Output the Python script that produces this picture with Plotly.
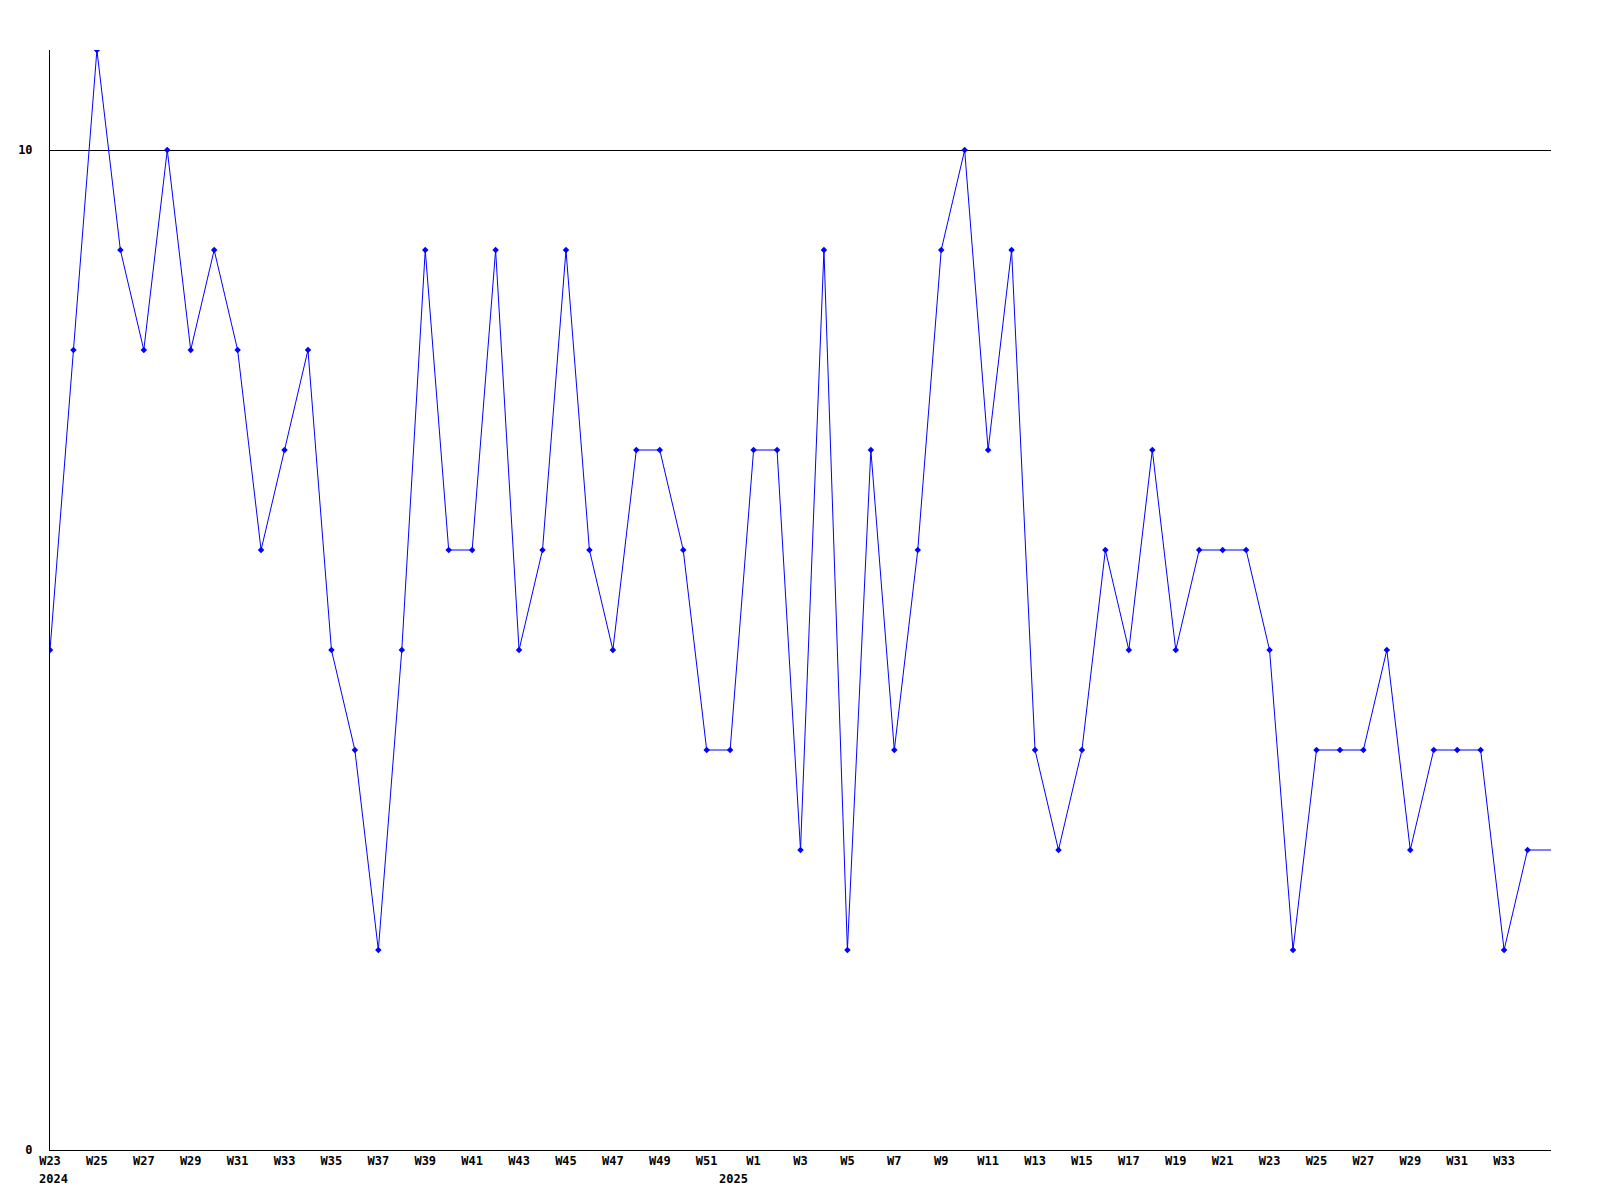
import plotly.graph_objects as go

weeks_2024 = [f"W{w}" for w in range(23, 53)]
weeks_2025 = [f"W{w}" for w in range(1, 35)]
weeks = weeks_2024 + weeks_2025

values = [5, 8, 11, 9, 8, 10, 8, 9, 8, 6, 7, 8, 5, 4, 2, 5, 9, 6, 6, 9,
          5, 6, 9, 6, 5, 7, 7, 6, 4, 4,
          7, 7, 3, 9, 2, 7, 4, 6, 9, 10, 7, 9, 4, 3, 4, 6, 5, 7, 5, 6,
          6, 6, 5, 2, 4, 4, 4, 5, 3, 4, 4, 4, 2, 3]

year_labels = ["2024", "2025"]
year_pos = [0.15, 29.13]

xs = list(range(len(values)))
tickvals = xs[::2]
ticktext = weeks[::2]

font = dict(family="DejaVu Sans Mono", size=12, color="black", weight="bold")

fig = go.Figure()
fig.add_trace(go.Scatter(
    x=xs, y=values, mode="lines+markers",
    line=dict(color="#0000ff", width=1),
    marker=dict(symbol="diamond", size=5, color="#0000ff"),
    showlegend=False, hoverinfo="skip"))
# line continues flat to the right edge from the last point
fig.add_trace(go.Scatter(
    x=[xs[-1], xs[-1] + 1], y=[values[-1], values[-1]], mode="lines",
    line=dict(color="#0000ff", width=1), showlegend=False, hoverinfo="skip"))

for lbl, pos in zip(year_labels, year_pos):
    fig.add_annotation(x=pos, y=0, xref="x", yref="paper", text=lbl,
                       showarrow=False, yanchor="top", yshift=-20, font=font)

fig.update_layout(
    width=1600, height=1200,
    margin=dict(l=42, r=57, t=42, b=58, autoexpand=False),
    paper_bgcolor="white", plot_bgcolor="white",
    font=font,
)
fig.update_xaxes(range=[0, 64], tickvals=tickvals, ticktext=ticktext,
                 showgrid=False, zeroline=False, showline=True,
                 linecolor="black", linewidth=1, ticks="", tickfont=font,
                 automargin=False)
fig.update_yaxes(range=[0, 11], tickvals=[0, 10], ticktext=["0", "10"],
                 showgrid=True, gridcolor="black", gridwidth=1,
                 zeroline=False, showline=True, linecolor="black",
                 linewidth=1, ticks="outside", ticklen=14,
                 tickcolor="rgba(0,0,0,0)", tickfont=font, automargin=False)

fig.write_html("out.html")
